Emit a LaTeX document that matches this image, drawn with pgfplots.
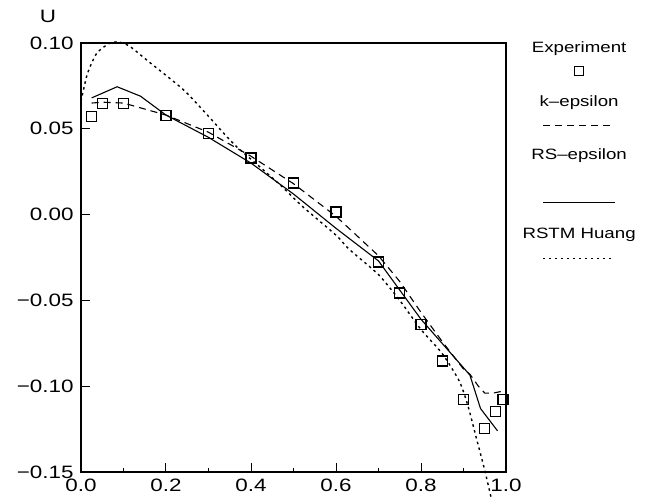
\documentclass[border=0pt]{standalone}
\usepackage{fontspec}
\setmainfont{Liberation Sans}[FakeStretch=1.25]
\usepackage{pgfplots}
\pgfplotsset{compat=1.18}

\begin{document}
\begin{tikzpicture}
\begin{axis}[
    scale only axis,
    width=425bp,
    height=429bp,
    xmin=0, xmax=1,
    ymin=-0.15, ymax=0.10,
    axis line style={line width=1.3bp},
    xtick={0,0.2,0.4,0.6,0.8,1.0},
    minor xtick={0.1,0.3,0.5,0.7,0.9},
    ytick={-0.15,-0.10,-0.05,0,0.05,0.10},
    xticklabels={0.0,0.2,0.4,0.6,0.8,1.0},
    yticklabels={−0.15,−0.10,−0.05,0.00,0.05,0.10},
    tick align=inside,
    xtick pos=bottom,
    ytick pos=left,
    major tick length=9bp,
    minor tick length=4bp,
    tick style={black, line width=1bp},
    ticklabel style={font=\fontsize{18}{20}\selectfont},
    xticklabel style={yshift=-3bp},
    yticklabel style={xshift=-4bp},
    clip=false,
]

% Experiment
\addplot[only marks, mark=square, mark size=5bp, line width=1.1bp] coordinates {
    (0.024,0.057) (0.05,0.0645) (0.1,0.0645) (0.2,0.0575) (0.3,0.047)
    (0.4,0.033) (0.5,0.0184) (0.6,0.0015) (0.7,-0.0276) (0.75,-0.0457)
    (0.8,-0.0643) (0.85,-0.0853) (0.9,-0.108) (0.95,-0.1244)
    (0.976,-0.115) (0.993,-0.108)
};

% k-epsilon
\addplot[line width=1.1bp, dash pattern=on 7bp off 5bp] coordinates {
    (0.025,0.065) (0.05,0.0655) (0.1,0.065) (0.2,0.058) (0.3,0.048)
    (0.4,0.034) (0.5,0.018) (0.6,-0.001) (0.7,-0.024) (0.75,-0.039)
    (0.8,-0.057) (0.85,-0.074) (0.9,-0.090) (0.915,-0.093) (0.935,-0.100)
    (0.95,-0.104) (0.97,-0.104) (0.99,-0.103)
};

% RS-epsilon
\addplot[line width=1.1bp] coordinates {
    (0.025,0.068) (0.085,0.0745) (0.14,0.069) (0.2,0.058) (0.3,0.045)
    (0.4,0.030) (0.5,0.012) (0.6,-0.008) (0.7,-0.027) (0.75,-0.044)
    (0.8,-0.061) (0.915,-0.0935) (0.94,-0.113) (0.98,-0.126)
};

% RSTM Huang
\addplot[line width=1.4bp, dash pattern=on 2.5bp off 3.5bp, smooth, tension=0.4] coordinates {
    (0.0,0.066) (0.015,0.082) (0.037,0.094) (0.068,0.100) (0.09,0.1005)
    (0.115,0.098) (0.16,0.089) (0.24,0.073) (0.29,0.060) (0.36,0.041)
    (0.42,0.028) (0.47,0.017) (0.52,0.005) (0.6,-0.012) (0.63,-0.020)
    (0.7,-0.035) (0.75,-0.050) (0.8,-0.067) (0.85,-0.081) (0.89,-0.097)
    (0.91,-0.111) (0.93,-0.130) (0.95,-0.149) (0.965,-0.165)
};

% axis title
\node[font=\fontsize{18}{20}\selectfont] at (rel axis cs:-0.078,1.061) {U};

% legend, text above its key
\begin{scope}[font=\fontsize{15}{17}\selectfont]
\node at (rel axis cs:1.172,0.988) {Experiment};
\node[draw, line width=1.1bp, minimum size=9bp, inner sep=0pt] at (rel axis cs:1.172,0.935) {};
\node at (rel axis cs:1.172,0.860) {k‒epsilon};
\draw[line width=1.1bp, dash pattern=on 7bp off 5bp] (rel axis cs:1.087,0.807) -- (rel axis cs:1.249,0.807);
\node at (rel axis cs:1.172,0.737) {RS‒epsilon};
\draw[line width=1.1bp] (rel axis cs:1.087,0.629) -- (rel axis cs:1.257,0.629);
\node at (rel axis cs:1.172,0.552) {RSTM Huang};
\draw[line width=1.4bp, dash pattern=on 2.5bp off 3.5bp] (rel axis cs:1.087,0.497) -- (rel axis cs:1.252,0.497);
\end{scope}
\end{axis}
\pgfresetboundingbox
\path ([shift={(-81bp,-31bp)}]current axis.south west) rectangle ++(648bp,503bp);
\end{tikzpicture}
\end{document}
